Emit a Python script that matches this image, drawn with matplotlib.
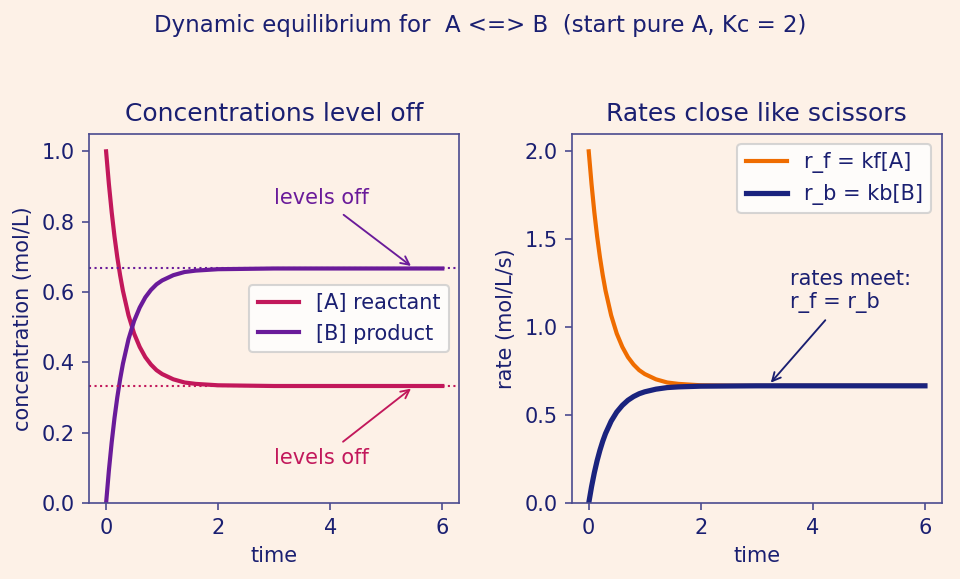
import matplotlib
matplotlib.use("Agg")
import matplotlib.pyplot as plt

# time points and readings
t = [0, 0.05, 0.1, 0.15, 0.2, 0.25, 0.3, 0.4, 0.5, 0.6, 0.7, 0.8, 0.9,
     1.0, 1.2, 1.4, 1.6, 2.0, 2.5, 3, 4, 5, 6]
conc_A = [1.000, 0.907, 0.827, 0.758, 0.699, 0.648, 0.604, 0.534, 0.482, 0.444,
          0.415, 0.394, 0.378, 0.367, 0.352, 0.343, 0.339, 0.335, 0.334, 0.333,
          0.333, 0.333, 0.333]
conc_B = [0.000, 0.093, 0.173, 0.242, 0.301, 0.352, 0.396, 0.466, 0.518, 0.556,
          0.585, 0.606, 0.622, 0.633, 0.648, 0.657, 0.661, 0.665, 0.666, 0.667,
          0.667, 0.667, 0.667]
rate_f = [2.000, 1.814, 1.654, 1.516, 1.398, 1.296, 1.208, 1.068, 0.964, 0.888,
          0.830, 0.788, 0.756, 0.734, 0.704, 0.686, 0.678, 0.670, 0.668, 0.667,
          0.667, 0.667, 0.667]
rate_b = [0.000, 0.093, 0.173, 0.242, 0.301, 0.352, 0.396, 0.466, 0.518, 0.556,
          0.585, 0.606, 0.622, 0.633, 0.648, 0.657, 0.661, 0.665, 0.666, 0.667,
          0.667, 0.667, 0.667]
eq_A = 0.333
eq_B = 0.667

bg = "#fdf1e7"
navy = "#1a1f71"
spine_col = "#4b4b8f"
col_A = "#c2185b"
col_B = "#6a1b9a"
col_f = "#ef6c00"
col_b = "#1a237e"

fig, (ax1, ax2) = plt.subplots(1, 2, figsize=(6.4, 3.86), dpi=150)
fig.patch.set_facecolor(bg)
fig.subplots_adjust(left=0.093, right=0.981, bottom=0.131, top=0.769, wspace=0.305)

for ax in (ax1, ax2):
    ax.set_facecolor(bg)
    for s in ax.spines.values():
        s.set_color(spine_col)
    ax.tick_params(colors=spine_col, labelcolor=navy)

# left panel: concentrations
ax1.plot(t, conc_A, color=col_A, lw=2, label="[A] reactant")
ax1.plot(t, conc_B, color=col_B, lw=2, label="[B] product")
ax1.axhline(eq_B, color=col_B, ls=":", lw=1)
ax1.axhline(eq_A, color=col_A, ls=":", lw=1)
ax1.set_ylim(0, 1.05)
ax1.set_title("Concentrations level off", color=navy, fontsize=12)
ax1.set_xlabel("time", color=navy)
ax1.set_ylabel("concentration (mol/L)", color=navy)
ax1.annotate("levels off", xy=(5.5, eq_B), xytext=(3.0, 0.85), color=col_B,
             arrowprops=dict(arrowstyle="->", color=col_B, lw=0.9))
ax1.annotate("levels off", xy=(5.5, eq_A), xytext=(3.0, 0.11), color=col_A,
             arrowprops=dict(arrowstyle="->", color=col_A, lw=0.9))
leg = ax1.legend(loc="center right")
for txt in leg.get_texts():
    txt.set_color(navy)

# right panel: rates
ax2.plot(t, rate_f, color=col_f, lw=2, label="r_f = kf[A]")
ax2.plot(t, rate_b, color=col_b, lw=2.5, label="r_b = kb[B]")
ax2.set_ylim(0, 2.1)
ax2.set_title("Rates close like scissors", color=navy, fontsize=12)
ax2.set_xlabel("time", color=navy)
ax2.set_ylabel("rate (mol/L/s)", color=navy)
ax2.annotate("rates meet:\nr_f = r_b", xy=(3.2, eq_B), xytext=(3.6, 1.11), color=navy,
             arrowprops=dict(arrowstyle="->", color=navy, lw=0.9))
leg2 = ax2.legend(loc="upper right")
for txt in leg2.get_texts():
    txt.set_color(navy)

fig.suptitle("Dynamic equilibrium for  A <=> B  (start pure A, Kc = 2)",
             color=navy, fontsize=11, y=0.975)

fig.savefig("out.png", dpi=150, facecolor=bg)
